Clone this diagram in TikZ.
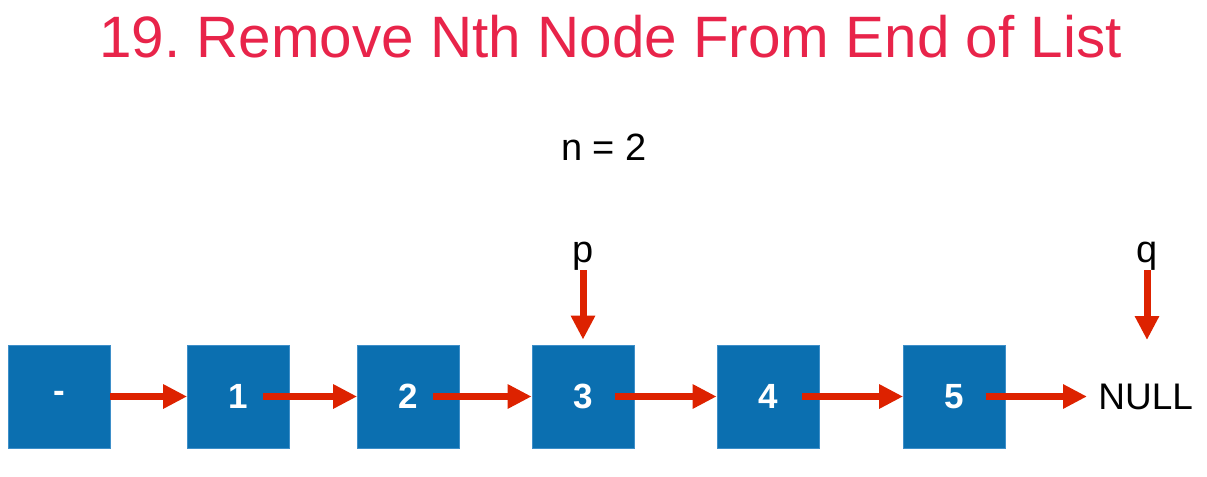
\documentclass[tikz,border=0pt]{standalone}
\usepackage{fontspec}
\setmainfont{Liberation Sans}
\usetikzlibrary{arrows.meta}
\definecolor{titlered}{HTML}{E8244A}
\definecolor{boxblue}{HTML}{0B6FB0}
\definecolor{boxedge}{HTML}{3E8FC9}
\definecolor{arrred}{HTML}{DD2200}
\frenchspacing
\tikzset{
  listbox/.style={fill=boxblue, draw=boxedge, line width=0.4pt, minimum width=51pt, minimum height=51.5pt, inner sep=0pt, text=white, font=\fontsize{17.5}{20}\selectfont\bfseries},
  arr/.style={draw=arrred, line width=3.5pt, -{Triangle[length=12pt,width=11.5pt]}, arrred},
  ptr/.style={inner sep=0pt, font=\fontsize{19}{22}\selectfont},
}
\begin{document}
\begin{tikzpicture}[x=0.5pt,y=-0.5pt]
\useasboundingbox (0,0) rectangle (1207,477);
\node[anchor=base, text=titlered, font=\fontsize{29.2}{34}\selectfont] (title) at (610.5,57) {19. Remove Nth Node From End of List};
\node[anchor=base, font=\fontsize{19}{22}\selectfont] (n) at (604,160) {n = 2};
\node[listbox] (b0) at (59,396.5) {-};
\node[listbox] (b1) at (238.5,396.5) {1};
\node[listbox] (b2) at (408.5,396.5) {2};
\node[listbox] (b3) at (583,396.5) {3};
\node[listbox] (b4) at (768,396.5) {4};
\node[listbox] (b5) at (954.5,396.5) {5};
\node[anchor=west, inner sep=0pt, font=\fontsize{18.5}{22}\selectfont] (null) at (1098,396.5) {NULL};
\node[ptr, anchor=base] (p) at (583,262) {p};
\node[ptr, anchor=base] (q) at (1147,262) {q};
\coordinate (qtip) at (1147,340);
\draw[arr] (b0.east) -- (b1.west);
\draw[arr] ([xshift=12pt]b1.center) -- (b2.west);
\draw[arr] ([xshift=12pt]b2.center) -- (b3.west);
\draw[arr] ([xshift=16pt]b3.center) -- (b4.west);
\draw[arr] ([xshift=17pt]b4.center) -- (b5.west);
\draw[arr] ([xshift=15.5pt]b5.center) -- ([xshift=-5.5pt]null.west |- b5.center);
\draw[arr] (p.south) -- ([yshift=2.5pt]b3.north);
\draw[arr] (q.south) -- (qtip);
\end{tikzpicture}
\end{document}
